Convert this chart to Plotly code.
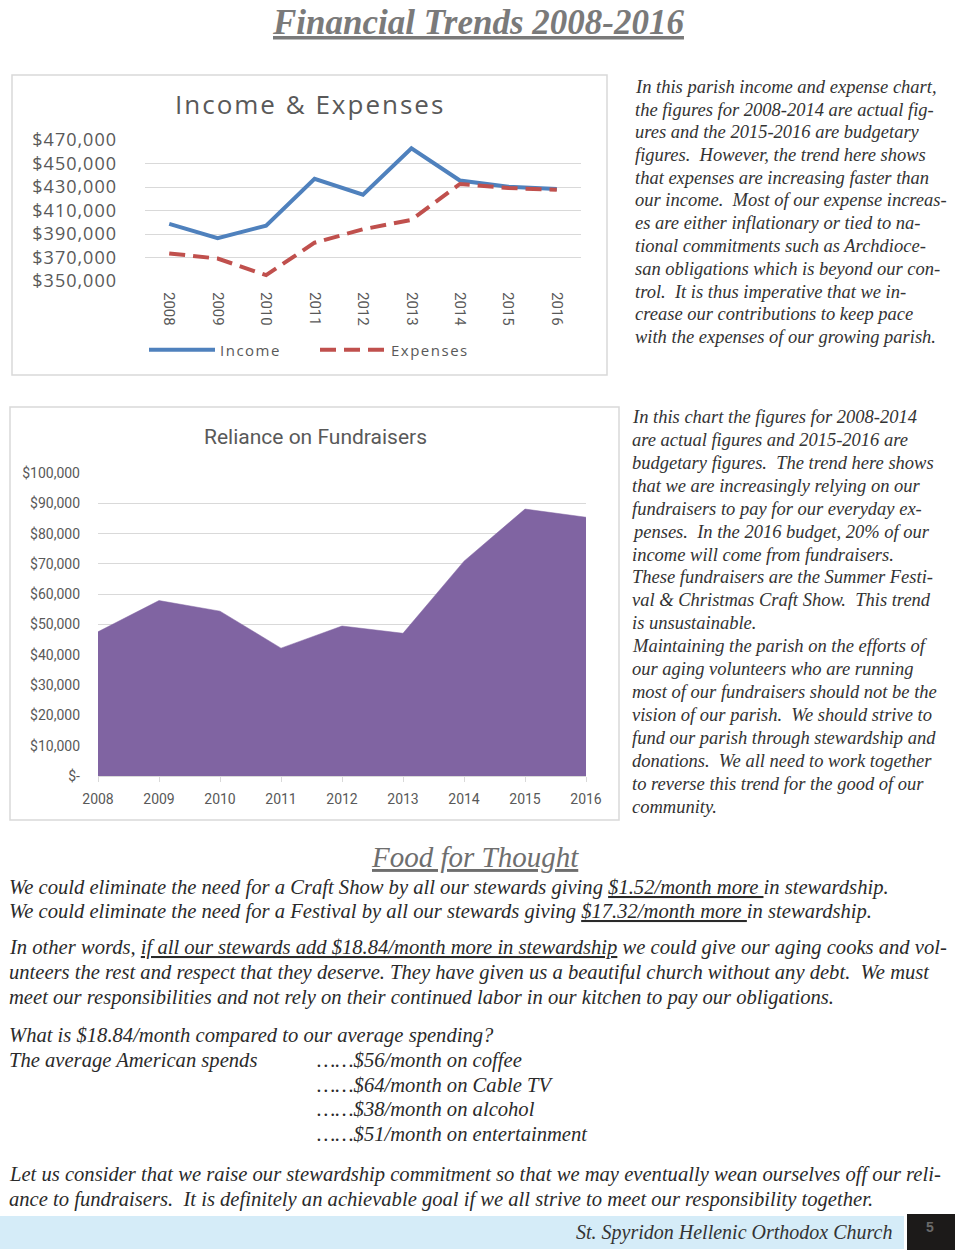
import plotly.graph_objects as go

W, H = 960, 1256

# ---------------- data ----------------
years = ["2008", "2009", "2010", "2011", "2012", "2013", "2014", "2015", "2016"]
income = [398600, 386500, 397100, 437000, 423500, 462900, 435500, 430300, 428300]
expenses = [373500, 369100, 355000, 382600, 394000, 402000, 432600, 429100, 427700]
fundraisers = [47600, 57900, 54400, 42200, 49500, 47100, 70900, 88100, 85400]

ie_ticks = [350000, 370000, 390000, 410000, 430000, 450000, 470000]
fr_ticks = [0, 10000, 20000, 30000, 40000, 50000, 60000, 70000, 80000, 90000, 100000]

page_title = "Financial Trends 2008-2016"
chart1_title = "Income &amp; Expenses"
chart2_title = "Reliance on Fundraisers"

text1 = [
    "In this parish income and expense chart,",
    "the figures for 2008-2014 are actual fig-",
    "ures and the 2015-2016 are budgetary",
    "figures.  However, the trend here shows",
    "that expenses are increasing faster than",
    "our income.  Most of our expense increas-",
    "es are either inflationary or tied to na-",
    "tional commitments such as Archdioce-",
    "san obligations which is beyond our con-",
    "trol.  It is thus imperative that we in-",
    "crease our contributions to keep pace",
    "with the expenses of our growing parish.",
]
text2 = [
    "In this chart the figures for 2008-2014",
    "are actual figures and 2015-2016 are",
    "budgetary figures.  The trend here shows",
    "that we are increasingly relying on our",
    "fundraisers to pay for our everyday ex-",
    "penses.  In the 2016 budget, 20% of our",
    "income will come from fundraisers.",
    "These fundraisers are the Summer Festi-",
    "val &amp; Christmas Craft Show.  This trend",
    "is unsustainable.",
    "Maintaining the parish on the efforts of",
    "our aging volunteers who are running",
    "most of our fundraisers should not be the",
    "vision of our parish.  We should strive to",
    "fund our parish through stewardship and",
    "donations.  We all need to work together",
    "to reverse this trend for the good of our",
    "community.",
]
food_title = "Food for Thought"
food_lines = [
    (887, 7, "We could eliminate the need for a Craft Show by all our stewards giving <u>$1.52/month more </u>in stewardship."),
    (911, 7, "We could eliminate the need for a Festival by all our stewards giving <u>$17.32/month more </u>in stewardship."),
    (947, 7, "In other words, <u>if all our stewards add $18.84/month more in stewardship</u> we could give our aging cooks and vol-"),
    (972, 7, "unteers the rest and respect that they deserve. They have given us a beautiful church without any debt.  We must"),
    (997, 7, "meet our responsibilities and not rely on their continued labor in our kitchen to pay our obligations."),
    (1035, 7, "What is $18.84/month compared to our average spending?"),
    (1060, 7, "The average American spends"),
    (1060, 315, "……$56/month on coffee"),
    (1085, 315, "……$64/month on Cable TV"),
    (1109, 315, "……$38/month on alcohol"),
    (1134, 315, "……$51/month on entertainment"),
    (1174, 7, "Let us consider that we raise our stewardship commitment so that we may eventually wean ourselves off our reli-"),
    (1199, 7, "ance to fundraisers.  It is definitely an achievable goal if we all strive to meet our responsibility together."),
]
footer_text = "St. Spyridon Hellenic Orthodox Church"
page_no = "5"

# ---------------- helpers ----------------
def px(x):
    return x / W

def py(y):
    return 1 - y / H

GRAY = "#595959"
GRID = "#d9d9d9"
SERIF = "Liberation Serif, DejaVu Serif, serif"
SANS = "Roboto, Open Sans, sans-serif"
WIDE = "Open Sans, DejaVu Sans, sans-serif"

def spaced(t, sp):
    return '<span style="letter-spacing:%spx">%s</span>' % (sp, t)

fig = go.Figure()

fig.add_trace(go.Scatter(
    x=years, y=income, name=spaced("Income", 1.5), mode="lines",
    line=dict(color="#4F81BD", width=4), xaxis="x", yaxis="y"))
fig.add_trace(go.Scatter(
    x=years, y=expenses, name=spaced("Expenses", 1.5), mode="lines",
    line=dict(color="#C0504D", width=4, dash="16px,8px"), xaxis="x", yaxis="y"))
fig.add_trace(go.Scatter(
    x=years, y=fundraisers, name="Fundraisers", mode="lines", fill="tozeroy",
    fillcolor="#8064A2", line=dict(color="#8064A2", width=0.5),
    showlegend=False, xaxis="x2", yaxis="y2"))

fig.update_layout(
    width=W, height=H,
    margin=dict(l=0, r=0, t=0, b=0, autoexpand=False),
    paper_bgcolor="white", plot_bgcolor="white",
    showlegend=True,
    legend=dict(orientation="h", x=px(144), y=py(350), xanchor="left", yanchor="middle",
                font=dict(family=WIDE, size=15, color=GRAY),
                bgcolor="rgba(0,0,0,0)", entrywidth=90, entrywidthmode="pixels",
                itemwidth=66, tracegroupgap=0),
    xaxis=dict(domain=[px(145), px(581)], type="category", range=[-0.5, 8.5],
               tickangle=90, ticks="", showgrid=False, showline=False, zeroline=False,
               ticklabelstandoff=10,
               tickfont=dict(family=SANS, size=15, color=GRAY), anchor="y"),
    yaxis=dict(domain=[py(281), py(140)], range=[350000, 470000],
               tickvals=ie_ticks,
               ticktext=[spaced("${:,.0f}".format(v), 1) for v in ie_ticks],
               showgrid=True, gridcolor=GRID, gridwidth=1, zeroline=False,
               ticks="", ticklabelstandoff=27,
               tickfont=dict(family=WIDE, size=18, color=GRAY),
               anchor="x"),
    xaxis2=dict(domain=[px(98), px(586)], type="category", range=[0, 8],
                showgrid=False, zeroline=False, showline=True, linecolor=GRID,
                ticks="outside", ticklen=5, tickcolor=GRID, ticklabelstandoff=5,
                tickfont=dict(family=SANS, size=14, color=GRAY), anchor="y2"),
    yaxis2=dict(domain=[py(776), py(473)], range=[0, 100000],
                tickvals=fr_ticks,
                ticktext=["$-" if v == 0 else "${:,.0f}".format(v) for v in fr_ticks],
                showgrid=True, gridcolor=GRID, gridwidth=1, zeroline=False,
                ticks="", ticklabelstandoff=17,
                tickfont=dict(family=SANS, size=14, color=GRAY), anchor="x2"),
)

shapes = [
    dict(type="rect", xref="paper", yref="paper", x0=px(12), x1=px(607), y0=py(375), y1=py(75),
         line=dict(color=GRID, width=1.5), fillcolor="rgba(0,0,0,0)", layer="below"),
    dict(type="rect", xref="paper", yref="paper", x0=px(10), x1=px(619), y0=py(820), y1=py(407),
         line=dict(color=GRID, width=1.5), fillcolor="rgba(0,0,0,0)", layer="below"),
    dict(type="rect", xref="paper", yref="paper", x0=px(0), x1=px(904), y0=py(1249), y1=py(1216),
         line=dict(width=0), fillcolor="#d5ecf8", layer="below"),
    dict(type="rect", xref="paper", yref="paper", x0=px(907), x1=px(955), y0=py(1250), y1=py(1214),
         line=dict(width=0), fillcolor="#1c1a19", layer="below"),
]

ann = []
def add(text, x, y, size, family, color, xanchor="left", yanchor="middle"):
    ann.append(dict(text=text, x=px(x), y=py(y), xref="paper", yref="paper",
                    xanchor=xanchor, yanchor=yanchor, showarrow=False,
                    font=dict(family=family, size=size, color=color)))

add("<b><i><u>" + page_title + "</u></i></b>", 478, 23, 35, SERIF, "#7a7a7a", xanchor="center")
add(spaced(chart1_title, 2), 310, 104, 26, WIDE, GRAY, xanchor="center")
add(chart2_title, 315, 437, 21, SANS, GRAY, xanchor="center")

y1 = [87, 110, 132, 155, 178, 200, 223, 246, 269, 292, 314, 337]
for yy, t in zip(y1, text1):
    add("<i>" + t + "</i>", 633, yy, 18.5, SERIF, "#333333")
y2 = [417, 440, 463, 486, 509, 532, 555, 577, 600, 623, 646, 669, 692, 715, 738, 761, 784, 807]
for yy, t in zip(y2, text2):
    add("<i>" + t + "</i>", 630, yy, 18.5, SERIF, "#333333")

add("<i><u>" + food_title + "</u></i>", 475, 857, 29, SERIF, "#6e6e6e", xanchor="center")
for yy, xx, t in food_lines:
    add("<i>" + t + "</i>", xx, yy, 20.6, SERIF, "#2a2a2a")

add("<i>" + footer_text + "</i>", 894, 1232, 20, SERIF, "#333333", xanchor="right")
add("<b>" + page_no + "</b>", 930, 1227, 14, "Liberation Sans, Arial, sans-serif", "#6a6a6a", xanchor="center")

fig.update_layout(shapes=shapes, annotations=ann)

fig.write_html(
    "out.html",
    config={"displayModeBar": False},
    post_script="document.body.style.margin='0';document.body.style.overflow='hidden';",
)
